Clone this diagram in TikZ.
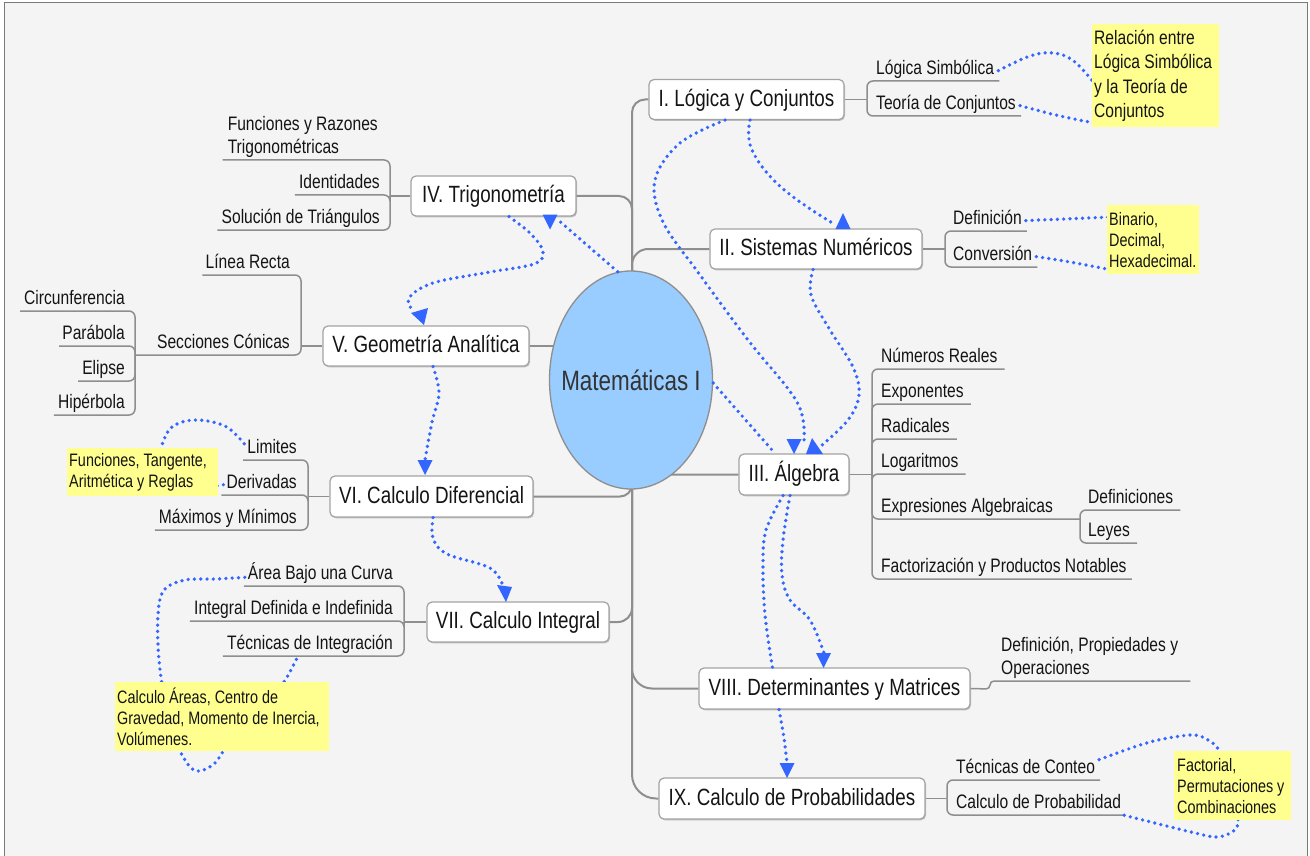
\documentclass[tikz,border=0pt]{standalone}
\usepackage{fontspec}
\setmainfont{Liberation Sans}[FakeStretch=0.8]
\usetikzlibrary{shapes.geometric,calc,shadows}
\definecolor{bg}{HTML}{F4F4F4}
\definecolor{framegray}{HTML}{7A7A7A}
\definecolor{branchgray}{HTML}{8E8E8E}
\definecolor{boxgray}{HTML}{A3A3A3}
\definecolor{txt}{HTML}{141414}
\definecolor{ellblue}{HTML}{99CCFF}
\definecolor{relblue}{HTML}{3366FF}
\definecolor{noteyellow}{HTML}{FFFF8F}

\begin{document}
\begin{tikzpicture}[x=1pt,y=-1pt,
  mainbox/.style={draw=boxgray, fill=white, rounded corners=5pt, line width=1.2pt,
    inner sep=0pt, minimum height=40pt, text height=17.5pt, text depth=4pt, text=txt,
    font=\fontsize{23.5}{28}\selectfont,
    drop shadow={shadow xshift=1pt, shadow yshift=-1.3pt, opacity=0.22, fill=black}},
  branch/.style={draw=branchgray, line width=2pt},
  subl/.style={draw=branchgray, line width=1.5pt, rounded corners=6pt},
  subtxt/.style={inner sep=0pt, text depth=6pt, text=txt,
    font=\fontsize{19.5}{23.5}\selectfont, align=flush left},
  subR/.style={subtxt, anchor=south west},
  subL/.style={subtxt, anchor=south east},
  note/.style={fill=noteyellow, inner ysep=0pt, inner xsep=2pt, anchor=north west,
    align=flush left, text=txt, font=\fontsize{18}{21}\selectfont},
  rel/.style={draw=relblue, line width=3.7pt, line cap=round, dash pattern=on 0pt off 6.3pt},
  pics/triup/.style={code={\fill[relblue] (0,-8) -- (-7.5,8) -- (7.5,8) -- cycle;}},
  pics/tridown/.style={code={\fill[relblue] (-7.5,-7.5) -- (7.5,-7.5) -- (0,7.5) -- cycle;}}
]
\useasboundingbox (0,0) rectangle (1310,856);
% page and sheet
\fill[white] (0,0) rectangle (1310,856);
\draw[framegray, line width=1pt, fill=bg] (4,3) rectangle (1307,880);

% trunk reference and central topic position
\coordinate (T) at (632,0);
\coordinate (C) at (631,380);

% ---------------- main topics ----------------
\node[mainbox, minimum width=195pt] (nI) at (746.5,99.5) {I. Lógica y Conjuntos};
\node[mainbox, minimum width=212pt] (nII) at (816,249) {II. Sistemas Numéricos};
\node[mainbox, minimum width=110pt, minimum height=41pt] (nIII) at (794,474.5) {III. Álgebra};
\node[mainbox, minimum width=165pt] (nIV) at (493.5,196) {IV. Trigonometría};
\node[mainbox, minimum width=206pt] (nV) at (426,346) {V. Geometría Analítica};
\node[mainbox, minimum width=203pt, minimum height=41pt] (nVI) at (431.5,496.5) {VI. Calculo Diferencial};
\node[mainbox, minimum width=182pt] (nVII) at (518,622) {VII. Calculo Integral};
\node[mainbox, minimum width=271pt, minimum height=41pt] (nVIII) at (834.5,688.5) {VIII. Determinantes y Matrices};
\node[mainbox, minimum width=266pt, minimum height=41pt] (nIX) at (792,798.5) {IX. Calculo de Probabilidades};

% ---------------- subtopic texts ----------------
% I
\node[subR] (tLS) at (876,81) {Lógica Simbólica};
\node[subR] (tTC) at (876,116) {Teoría de Conjuntos};
% II
\node[subR] (tDef) at (953,231) {Definición};
\node[subR] (tConv) at (953,267) {Conversión};
% III
\node[subR] (tNR) at (881,369) {Números Reales};
\node[subR] (tExp) at (881,404) {Exponentes};
\node[subR] (tRad) at (881,439) {Radicales};
\node[subR] (tLog) at (881,474) {Logaritmos};
\node[subR] (tEA) at (881,519) {Expresiones Algebraicas};
\node[subR] (tDefs) at (1088,510) {Definiciones};
\node[subR] (tLey) at (1088,543) {Leyes};
\node[subR] (tFac) at (881,579) {Factorización y Productos Notables};
% VIII
\node[subR] (tDPO) at (1001,681) {Definición, Propiedades y\\Operaciones};
% IX
\node[subR] (tTCo) at (956,780) {Técnicas de Conteo};
\node[subR] (tCP) at (956,815) {Calculo de Probabilidad};
% IV
\node[subL] (tFR) at (378,160) {Funciones y Razones\\Trigonométricas};
\node[subL] (tId) at (380,195) {Identidades};
\node[subL] (tST) at (380,230) {Solución de Triángulos};
% V
\node[subL] (tLR) at (290,275) {Línea Recta};
\node[subL] (tSC) at (290,355) {Secciones Cónicas};
\node[subL] (tCir) at (125,311) {Circunferencia};
\node[subL] (tPar) at (125,346) {Parábola};
\node[subL] (tEli) at (125,381) {Elipse};
\node[subL] (tHip) at (125,415) {Hipérbola};
% VI
\node[subL] (tLim) at (297,460) {Limites};
\node[subL] (tDer) at (297,495) {Derivadas};
\node[subL] (tMax) at (297,530) {Máximos y Mínimos};
% VII
\node[subL] (tABC) at (393,586) {Área Bajo una Curva};
\node[subL] (tIDI) at (393,621) {Integral Definida e Indefinida};
\node[subL] (tTI) at (393,656) {Técnicas de Integración};

% junction points of the brackets
\coordinate (jI) at (867,99.5);
\coordinate (jII) at (945,249);
\coordinate (jIII) at (872,474.5);
\coordinate (jEA) at (1080,519);
\coordinate (jVIII) at (990,689);
\coordinate (jIX) at (947,798.5);
\coordinate (jIV) at (390,196);
\coordinate (jV) at (301,346);
\coordinate (jSC) at (135,355);
\coordinate (jVI) at (308,496.5);
\coordinate (jVII) at (404,622);

% trunk
\draw[branch, rounded corners=13pt] (nI.west) -- (nI.west -| T) -- (T |- C);
\draw[branch, rounded corners=24pt] (T |- C) -- (T |- nIX.west) -- (nIX.west);
\draw[branch, rounded corners=16pt] (nII.west) -- (nII.west -| T) -- (T |- C);
\draw[branch, rounded corners=13pt] (nIV.east) -- (nIV.east -| T) -- (T |- C);
\draw[branch] (nV.east) -- (nV.east -| T);
\draw[branch, rounded corners=13pt] (nIII.west) -- (nIII.west -| T) -- (T |- C);
\draw[branch, rounded corners=12pt] (nVI.east) -- (nVI.east -| T) -- (T |- C);
\draw[branch, rounded corners=14pt] (nVII.east) -- (nVII.east -| T) -- (T |- C);
\draw[branch, rounded corners=20pt] (nVIII.west) -- (nVIII.west -| T) -- (T |- C);

% central topic (size fixed by the ellipse, not by its label)
\node[ellipse, draw=branchgray, line width=1.3pt, fill=ellblue, inner sep=0pt,
  minimum width=163pt, minimum height=218pt, text=black!80,
  font=\fontsize{28}{32}\selectfont] (nC) at (C) {\makebox[0pt]{Matemáticas I}};

% subtopic brackets and underlines
\draw[subl] (nI.east) -- (jI);
\draw[subl] (jI) |- ([xshift=5pt]tLS.south east);
\draw[subl] (jI) |- ([xshift=5pt]tTC.south east);
\draw[subl] (nII.east) -- (jII);
\draw[subl] (jII) |- ([xshift=5pt]tDef.south east);
\draw[subl] (jII) |- ([xshift=5pt]tConv.south east);
\draw[subl] (nIII.east) -- (jIII);
\draw[subl] (jIII) |- ([xshift=7pt]tNR.south east);
\draw[subl] (jIII) |- ([xshift=7pt]tExp.south east);
\draw[subl] (jIII) |- ([xshift=7pt]tRad.south east);
\draw[subl] (jIII) |- ([xshift=7pt]tLog.south east);
\draw[subl] (jIII) |- (jEA);
\draw[subl] (jIII) |- ([xshift=5pt]tFac.south east);
\draw[subl] (jEA) |- ([xshift=7pt]tDefs.south east);
\draw[subl] (jEA) |- ([xshift=7pt]tLey.south east);
\draw[subl, rounded corners=4pt] (nVIII.east) -- (jVIII) |- ([xshift=12pt]tDPO.south east);
\draw[subl] (nIX.east) -- (jIX);
\draw[subl] (jIX) |- ([xshift=5pt]tTCo.south east);
\draw[subl] (jIX) |- ([xshift=3pt]tCP.south east);
\draw[subl] (nIV.west) -- (jIV);
\draw[subl] (jIV) |- ([xshift=-5pt]tFR.south west);
\draw[subl] (jIV) |- ([xshift=-4pt]tId.south west);
\draw[subl] (jIV) |- ([xshift=-4pt]tST.south west);
\draw[subl] (nV.west) -- (jV);
\draw[subl] (jV) |- ([xshift=-3pt]tLR.south west);
\draw[subl] (jV) |- (jSC);
\draw[subl] (jSC) |- ([xshift=-4pt]tCir.south west);
\draw[subl] (jSC) |- ([xshift=-3pt]tPar.south west);
\draw[subl] (jSC) |- ([xshift=-4pt]tEli.south west);
\draw[subl] (jSC) |- ([xshift=-4pt]tHip.south west);
\draw[subl] (nVI.west) -- (jVI);
\draw[subl] (jVI) |- ([xshift=-4pt]tLim.south west);
\draw[subl] (jVI) |- ([xshift=-5pt]tDer.south west);
\draw[subl] (jVI) |- ([xshift=-4pt]tMax.south west);
\draw[subl] (nVII.west) -- (jVII);
\draw[subl] (jVII) |- ([xshift=-4pt]tABC.south west);
\draw[subl] (jVII) |- ([xshift=-4pt]tIDI.south west);
\draw[subl] (jVII) |- ([xshift=-4pt]tTI.south west);

% ---------------- links to the callouts (partly hidden by them) ----------------
\draw[rel] plot[smooth, tension=0.6] coordinates {([xshift=4pt]tLS.east) (1030,56) (1054,53) (1075,62) (1100,90)};
\draw[rel] plot[smooth, tension=0.6] coordinates {([xshift=4pt]tTC.east) (1060,116) (1100,124)};
\draw[rel] ([xshift=4pt]tDef.east) -- (1112,217);
\draw[rel] plot[smooth, tension=0.6] coordinates {([xshift=4pt]tConv.east) (1070,262) (1112,270)};
\draw[rel] plot[smooth, tension=0.6] coordinates {([xshift=-3pt,yshift=6pt]tLim.west) (225,426) (195,420) (172,427) (162,445) (160,460)};
\draw[rel] ([xshift=-3pt]tDer.west) -- (210,487);
\draw[rel] plot[smooth, tension=0.55] coordinates {([xshift=-3pt,yshift=-3pt]tABC.west) (215,579) (185,580) (164,590) (158,615) (159,660) (168,720) (182,755) (196,771) (214,764) (226,748) (260,712) (284,682) ([xshift=71pt]tTI.south west)};
\draw[rel] plot[smooth, tension=0.55] coordinates {([xshift=4pt,yshift=10pt]tTCo.east) (1150,742) (1191,735) (1208,740) (1220,752) (1235,790) (1238,822) (1232,832) (1217,837) (1195,833) ([xshift=2pt]tCP.south east)};

% ---------------- callouts ----------------
\node[note, text width=123pt, minimum height=103pt, font=\fontsize{19.5}{24.3}\selectfont] (nRel) at (1092,24)
  {Relación entre\\Lógica Simbólica\\y la Teoría de\\Conjuntos};
\node[note, text width=88pt, minimum height=69pt] (nBin) at (1107,205)
  {Binario,\\Decimal,\\Hexadecimal.};
\node[note, text width=147pt, minimum height=48pt] (nFun) at (67,448)
  {Funciones, Tangente,\\Aritmética y Reglas};
\node[note, text width=210pt, minimum height=69pt] (nCA) at (115,682)
  {Calculo Áreas, Centro de\\Gravedad, Momento de Inercia,\\Volúmenes.};
\node[note, inner xsep=3pt, text width=111pt, minimum height=69pt] (nFac) at (1174,751)
  {Factorial,\\Permutaciones y\\Combinaciones};

% ---------------- relationships between topics ----------------
\coordinate (r1a) at ([xshift=3.5pt]nI.south);
\draw[rel] plot[smooth, tension=0.7] coordinates {(r1a) (752,150) (782,188) (834,224)};
\coordinate (r2a) at ([xshift=-21.5pt]nI.south);
\draw[rel] plot[smooth, tension=0.6] coordinates {(r2a) (680,143) (655,180) (663,222) (700,275) (748,340) (797,402) (804,440)};
\coordinate (r3a) at ([xshift=-3pt]nII.south);
\draw[rel] plot[smooth, tension=0.6] coordinates {(r3a) (811,295) (830,330) (853,367) (859,395) (848,420) (821,446)};
\draw[rel] ([yshift=-3pt]nC.east) -- ([xshift=-19pt]nIII.north);
\draw[rel] (nC.97) -- (557,219);
\coordinate (r6a) at ([xshift=15.5pt]nIV.south);
\draw[rel] plot[smooth, tension=0.6] coordinates {(r6a) (531,234) (543,252) (534,264) (490,272) (433,283) (409,298) (413,311)};
\coordinate (r7a) at ([xshift=7pt]nV.south);
\draw[rel] plot[smooth, tension=0.6] coordinates {(r7a) (439,393) (432,422) (425,460)};
\coordinate (r8a) at ([xshift=1.5pt]nVI.south);
\draw[rel] plot[smooth, tension=0.6] coordinates {(r8a) (433,538) (447,554) (490,568) (503,586)};
\coordinate (r9a) at ([xshift=-11pt]nIII.south);
\coordinate (r9b) at ([xshift=-62pt]nVIII.north);
\draw[rel] plot[smooth, tension=0.6] coordinates {(r9a) (766,530) (763,565) (765,615) (r9b)};
\coordinate (r10a) at ([xshift=-4pt]nIII.south);
\draw[rel] plot[smooth, tension=0.6] coordinates {(r10a) (783,540) (782,575) (790,600) (810,620) (824,653)};
\coordinate (r11a) at ([xshift=-55.5pt]nVIII.south);
\draw[rel] plot[smooth, tension=0.6] coordinates {(r11a) (784,738) (787,763)};

% arrowheads
\pic at (843,221) {triup};
\pic at (550,222) {tridown};
\pic at (794,446.5) {tridown};
\fill[relblue] (812,438) -- (806,454) -- (823,454) -- cycle;
\fill[relblue] (411,313) -- (428,308) -- (424,325) -- cycle;
\pic at (425,467.5) {tridown};
\fill[relblue] (497,585) -- (512,587) -- (506,602) -- cycle;
\pic at (823.5,660.5) {tridown};
\pic at (787,770.5) {tridown};
\end{tikzpicture}
\end{document}
